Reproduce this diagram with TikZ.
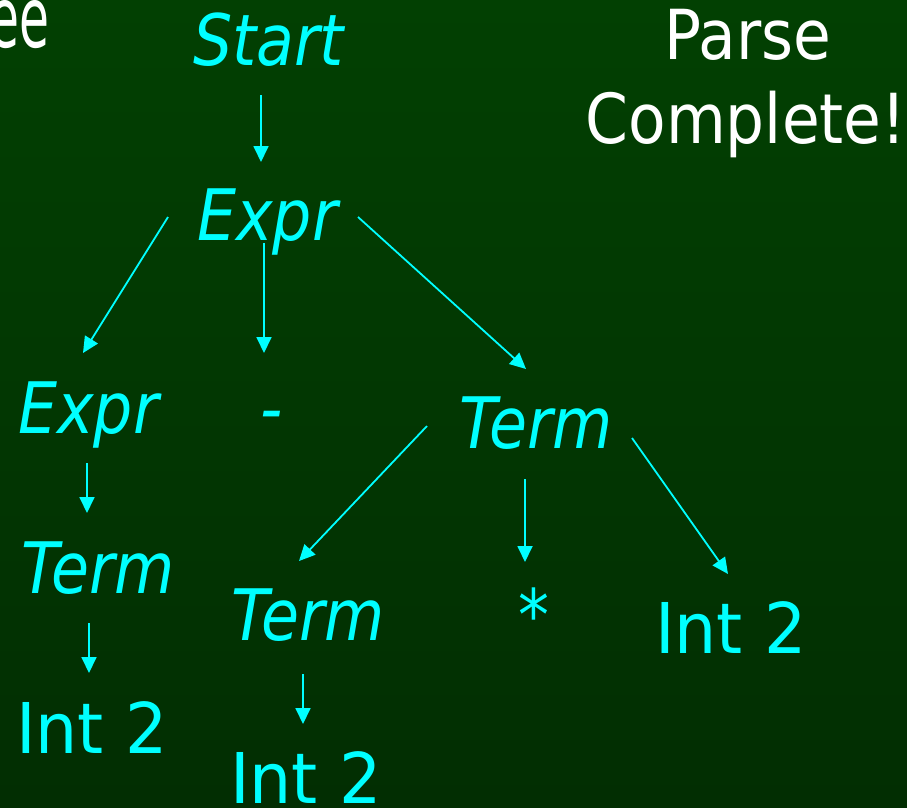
\documentclass[tikz,border=0pt]{standalone}
\usepackage{fontspec}
\setmainfont{DejaVu Sans}[FakeStretch=0.95]
\newfontfamily\ntfont{DejaVu Sans}[FakeStretch=0.87]
\newfontfamily\titlefont{DejaVu Sans}[FakeStretch=0.89]
\newfontfamily\headfont{DejaVu Sans}[FakeStretch=0.58]
\usetikzlibrary{arrows.meta}
\definecolor{bgtop}{RGB}{2,64,2}
\definecolor{bgbot}{RGB}{2,46,2}
\definecolor{sym}{RGB}{0,255,255}
\tikzset{
  nt/.style={text=sym, inner sep=0pt, anchor=base west, font=\fontsize{71}{82}\ntfont\itshape},
  tm/.style={text=sym, inner sep=0pt, anchor=base west, font=\fontsize{70}{82}\selectfont},
  title/.style={text=white, inner sep=0pt, font=\fontsize{69}{80}\titlefont},
  edge/.style={draw=sym, line width=1.8pt, -{Triangle[width=15pt,length=16pt]}}
}
\begin{document}
\begin{tikzpicture}[x=1pt,y=-1pt]
  % slide background
  \shade[top color=bgtop, bottom color=bgbot] (0,0) rectangle (907,807);
  \useasboundingbox (0,0) rectangle (907,807);

  % titles
  \node[text=white, inner sep=0pt, font=\fontsize{84}{96}\headfont, anchor=base east] (tree) at (50,47) {Tree};
  \node[title, anchor=base] (parse) at (748,59) {Parse};
  \node[title, anchor=base] (done) at (746,143) {Complete!};

  % grammar symbols
  \node[nt] (start) at (193,65) {Start};
  \node[nt] (expr) at (197,240) {Expr};
  \node[nt] (exprL) at (18,433) {Expr};
  \node[nt] (minus) at (260,433) {-};
  \node[nt] (termR) at (459,448) {Term};
  \node[nt] (termL) at (21,593) {Term};
  \node[tm] (intL) at (16,753) {Int 2};
  \node[nt] (termM) at (231,640) {Term};
  \node[nt] (star) at (518,640) {*};
  \node[tm] (intR) at (655,653) {Int 2};
  \node[tm] (intM) at (230,803) {Int 2};

  % connector ends
  \coordinate (s0) at (261,95);   \coordinate (s1) at (261,162);
  \coordinate (a0) at (168,217);  \coordinate (a1) at (83,353);
  \coordinate (b0) at (264,243);  \coordinate (b1) at (264,353);
  \coordinate (c0) at (358,217);  \coordinate (c1) at (526,369);
  \coordinate (d0) at (87,463);   \coordinate (d1) at (87,513);
  \coordinate (e0) at (89,623);   \coordinate (e1) at (89,673);
  \coordinate (f0) at (427,426);  \coordinate (f1) at (299,561);
  \coordinate (g0) at (525,479);  \coordinate (g1) at (525,562);
  \coordinate (h0) at (632,438);  \coordinate (h1) at (728,574);
  \coordinate (k0) at (303,674);  \coordinate (k1) at (303,724);

  \draw[edge] (s0) -- (s1);
  \draw[edge] (a0) -- (a1);
  \draw[edge] (b0) -- (b1);
  \draw[edge] (c0) -- (c1);
  \draw[edge] (d0) -- (d1);
  \draw[edge] (e0) -- (e1);
  \draw[edge] (f0) -- (f1);
  \draw[edge] (g0) -- (g1);
  \draw[edge] (h0) -- (h1);
  \draw[edge] (k0) -- (k1);
\end{tikzpicture}
\end{document}
